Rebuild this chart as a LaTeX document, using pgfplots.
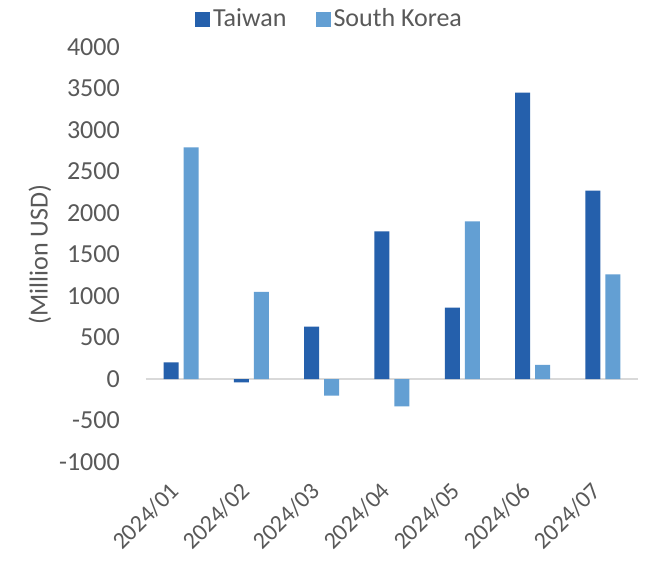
\documentclass[border=0pt]{standalone}
\usepackage{fontspec}
\setmainfont{Carlito}
\usepackage{pgfplots}
\pgfplotsset{compat=1.18}
\definecolor{tw}{RGB}{37,96,172}
\definecolor{kr}{RGB}{99,159,211}
\definecolor{txt}{RGB}{89,89,89}
\definecolor{zl}{RGB}{217,217,217}
\begin{document}
\fontsize{19.5}{23}\selectfont
\begin{tikzpicture}
\useasboundingbox[fill=white] (-109.5pt,-76.5pt) rectangle (377.25pt,346.5pt);
\begin{axis}[
  at={(0,0)}, anchor=south west,
  scale only axis, width=369pt, height=311.25pt,
  xmin=-0.5, xmax=6.5, ymin=-1000, ymax=4000,
  ytick={-1000,-500,...,4000},
  xtick={0,...,6},
  xticklabels={2024/01,2024/02,2024/03,2024/04,2024/05,2024/06,2024/07},
  axis line style={draw=none},
  major tick length=0pt,
  ybar=3.75pt, bar width=11.25pt,
  extra y ticks={0}, extra y tick labels={},
  extra y tick style={grid=major, major grid style={zl, line width=1.5pt}},
  scaled y ticks=false,
  /pgf/number format/assume math mode=true,
  /pgf/number format/1000 sep={},
  tick label style={text=txt, font=\fontsize{19.5}{23}\selectfont},
  yticklabel style={xshift=-13pt},
  xticklabel style={rotate=45, anchor=east, font=\fontsize{18}{21}\selectfont},
  xticklabel shift=14pt,
  ylabel={(Million USD)},
  ylabel style={at={([xshift=-79.5pt]axis description cs:0,0.5)}, anchor=center, text=txt, font=\fontsize{19.5}{23}\selectfont},
  legend style={at={(axis description cs:0.374,1.067)}, anchor=center, draw=none, fill=none,
    legend columns=2, font=\fontsize{19.5}{23}\selectfont, text=txt,
    /tikz/every even column/.append style={column sep=20pt}},
  legend image code/.code={\fill[#1] (-3pt,-5.6pt) rectangle (8.25pt,5.6pt);},
]
\addplot[fill=tw, draw=none] coordinates {(0,200) (1,-40) (2,630) (3,1780) (4,860) (5,3450) (6,2270)};
\addplot[fill=kr, draw=none] coordinates {(0,2790) (1,1050) (2,-200) (3,-330) (4,1900) (5,170) (6,1260)};
\legend{Taiwan, South Korea}
\end{axis}
\end{tikzpicture}
\end{document}
